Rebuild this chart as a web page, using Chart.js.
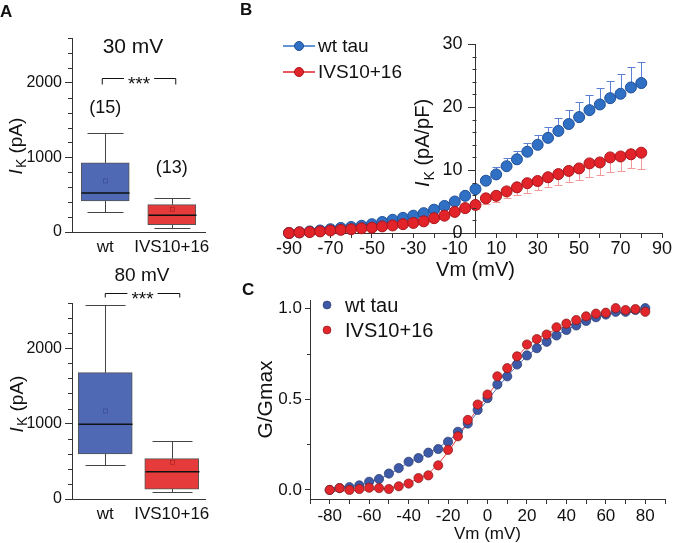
<!DOCTYPE html>
<html>
<head>
<meta charset="utf-8">
<script src="https://cdn.jsdelivr.net/npm/chart.js@4.4.0/dist/chart.umd.min.js"></script>
<style>
  html, body { margin: 0; padding: 0; background: #fff; }
  #fig { position: relative; width: 673px; height: 543px; overflow: hidden; }
  #fig canvas { position: absolute; }
  .panel { position: absolute; font: bold 17px "Liberation Sans", Arial, sans-serif; line-height: 17px; color: #111; }
</style>
</head>
<body>
<div id="fig">
  <canvas id="box30" width="230" height="260" style="left:0;top:0;width:230px;height:260px"></canvas>
  <canvas id="box80" width="230" height="283" style="left:0;top:260px;width:230px;height:283px"></canvas>
  <canvas id="iv" width="443" height="290" style="left:230px;top:0;width:443px;height:290px"></canvas>
  <canvas id="gv" width="443" height="263" style="left:230px;top:280px;width:443px;height:263px"></canvas>
  <div class="panel" style="left:0;top:3px">A</div>
  <div class="panel" style="left:240px;top:1px">B</div>
  <div class="panel" style="left:242px;top:281px">C</div>
</div>
<script>
const FONT = '"Liberation Sans", Arial, sans-serif';
const AXIS = '#333';
const INK = '#111';

// ---- Panel A: I_K box plots (pA), one entry per group ----
const groups = ['wt', 'IVS10+16'];
const counts30 = ['(15)', '(13)'];
const countY30 = [1600, 790];
const boxTicksA = [0, 1000, 2000];
const boxMinorA = [200, 400, 600, 800, 1200, 1400, 1600, 1800, 2200, 2400, 2600];

const min30 = [268, 54];
const q1_30 = [416, 98];
const med30 = [523, 224];
const q3_30 = [926, 367];
const max30 = [1330, 456];
const mean30 = [685, 305];

const min80 = [447, 88];
const q1_80 = [597, 132];
const med80 = [992, 360];
const q3_80 = [1676, 536];
const max80 = [2580, 772];
const mean80 = [1167, 487];

// ---- Panel B: current density vs voltage ----
const vmB = [-90, -85, -80, -75, -70, -65, -60, -55, -50, -45, -40, -35, -30, -25, -20, -15, -10, -5, 0,
  5, 10, 15, 20, 25, 30, 35, 40, 45, 50, 55, 60, 65, 70, 75, 80];
const ivWt = [0, 0.1, 0.25, 0.4, 0.6, 0.8, 0.95, 1.15, 1.4, 1.75, 2.1, 2.4, 2.75, 3.15, 3.7, 4.3, 5.0, 5.9, 6.95,
  8.3, 9.3, 10.6, 11.7, 12.9, 14.0, 15.1, 16.2, 17.3, 18.4, 19.5, 20.4, 21.4, 22.1, 23.1, 23.8];
const ivWtErr = [0.1, 0.1, 0.1, 0.1, 0.1, 0.1, 0.15, 0.15, 0.2, 0.2, 0.25, 0.25, 0.3, 0.3, 0.35, 0.35, 0.4, 0.5, 0.65,
  0.75, 1.1, 1.3, 1.35, 1.4, 1.6, 1.7, 2.0, 2.3, 2.4, 2.4, 2.65, 2.8, 3.2, 3.2, 3.3];
const ivMut = [0, 0.1, 0.15, 0.25, 0.4, 0.5, 0.6, 0.75, 0.85, 1.05, 1.2, 1.4, 1.6, 1.85, 2.35, 2.75, 3.35, 3.95, 4.45,
  5.5, 5.9, 6.6, 7.25, 7.9, 8.25, 8.85, 9.35, 9.85, 10.25, 11.05, 11.2, 12.0, 12.15, 12.5, 12.75];
const ivMutErr = [0.05, 0.05, 0.05, 0.05, 0.1, 0.1, 0.1, 0.1, 0.1, 0.15, 0.15, 0.2, 0.2, 0.25, 0.3, 0.35, 0.4, 0.5, 0.6,
  0.9, 0.9, 1.1, 1.2, 1.5, 1.4, 1.5, 1.7, 1.75, 1.85, 2.1, 2.05, 2.25, 2.3, 2.25, 2.6];
const ivTicksX = [-90, -80, -70, -60, -50, -40, -30, -20, -10, 0, 10, 20, 30, 40, 50, 60, 70, 80, 90];
const ivLabelsX = [-90, -70, -50, -30, -10, 10, 30, 50, 70, 90];
const ivTicksY = [0, 10, 20, 30];
const ivMinorY = [2, 4, 6, 8, 12, 14, 16, 18, 22, 24, 26, 28];

// ---- Panel C: normalised conductance ----
const vmC = [-80, -75, -70, -65, -60, -55, -50, -45, -40, -35, -30, -25, -20, -15, -10, -5, 0,
  5, 10, 15, 20, 25, 30, 35, 40, 45, 50, 55, 60, 65, 70, 75, 80];
const gvWt = [0.0, 0.01, 0.015, 0.025, 0.045, 0.06, 0.09, 0.12, 0.155, 0.175, 0.205, 0.225, 0.265, 0.32, 0.365, 0.44, 0.505,
  0.58, 0.625, 0.69, 0.74, 0.78, 0.815, 0.85, 0.88, 0.905, 0.93, 0.95, 0.965, 0.98, 0.98, 0.99, 1.0];
const gvMut = [0.0, 0.01, 0.0, 0.005, 0.012, 0.01, 0.005, 0.02, 0.035, 0.065, 0.08, 0.135, 0.22, 0.295, 0.385, 0.47, 0.525,
  0.625, 0.67, 0.735, 0.8, 0.83, 0.855, 0.895, 0.915, 0.935, 0.955, 0.97, 0.975, 1.0, 0.99, 0.995, 0.98];
// Boltzmann fit curves, every 10 mV
const fitV = [-80, -70, -60, -50, -40, -30, -20, -10, 0, 10, 20, 30, 40, 50, 60, 70, 80];
const fitWt = [0.01, 0.02, 0.04, 0.085, 0.15, 0.2, 0.27, 0.365, 0.495, 0.625, 0.735, 0.82, 0.88, 0.93, 0.965, 0.98, 0.995];
const fitMut = [-0.008, -0.005, 0.0, 0.01, 0.04, 0.09, 0.21, 0.37, 0.52, 0.66, 0.79, 0.86, 0.9, 0.935, 0.965, 0.975, 0.98];
const gvTicksX = [-90, -80, -70, -60, -50, -40, -30, -20, -10, 0, 10, 20, 30, 40, 50, 60, 70, 80, 90];
const gvLabelsX = [-80, -60, -40, -20, 0, 20, 40, 60, 80];
const gvTicksY = [0, 0.5, 1.0];
const gvMinorY = [0.25, 0.75];

const seriesNames = ['wt tau', 'IVS10+16'];

// colours
const BOX_FILL = ['#5069b5', '#e63b3b'];
const BOX_MEAN = ['#3a4f99', '#b02525'];
const B_BLUE = '#2f70c4', B_BLUE_EDGE = '#1f4e99', B_BLUE_ERR = '#5a7fd4';
const B_RED = '#e2232a', B_RED_EDGE = '#a8141a', B_RED_ERR = '#f29a9a';
const C_BLUE = '#3d5aa8', C_BLUE_EDGE = '#2a3566', C_BLUE_FIT = '#4a6fd0';
const C_RED = '#e2262c', C_RED_EDGE = '#7d1a1a', C_RED_FIT = '#e8353a';

Chart.defaults.font.family = FONT;
Chart.defaults.color = INK;
Chart.defaults.animation = false;
Chart.defaults.events = [];
Chart.defaults.plugins.legend.display = false;
Chart.defaults.plugins.tooltip.enabled = false;

function line(ctx, x1, y1, x2, y2) {
  ctx.beginPath(); ctx.moveTo(x1, y1); ctx.lineTo(x2, y2); ctx.stroke();
}
const crisp = (v) => Math.round(v) + 0.5;
const setTicks = (vals) => (s) => { s.ticks = vals.map((v) => ({ value: v })); };

// short unlabelled ticks on the y axis (Chart.js has no minor ticks)
Chart.register({
  id: 'minorTicks',
  afterDraw(chart, args, opts) {
    if (!opts.values) return;
    const { ctx, scales } = chart;
    const ys = scales.y;
    const x0 = opts.atX !== undefined ? crisp(scales.x.getPixelForValue(opts.atX)) : crisp(ys.right) - 0.5;
    ctx.save();
    ctx.strokeStyle = AXIS;
    ctx.lineWidth = 1;
    for (const v of opts.values) {
      const py = crisp(ys.getPixelForValue(v));
      line(ctx, x0, py, x0 - opts.len, py);
    }
    ctx.restore();
  },
});

// rotated "I_K (unit)" axis title, italic I with subscript K
function drawIK(ctx, cx, cy, unit, size) {
  ctx.save();
  ctx.translate(cx, cy);
  ctx.rotate(-Math.PI / 2);
  ctx.fillStyle = INK;
  ctx.textAlign = 'left';
  ctx.textBaseline = 'alphabetic';
  const fI = `italic ${size}px ${FONT}`;
  const fK = `${Math.round(size * 0.72)}px ${FONT}`;
  const fU = `${size}px ${FONT}`;
  ctx.font = fI; const wI = ctx.measureText('I').width + 1;
  ctx.font = fK; const wK = ctx.measureText('K').width;
  ctx.font = fU; const wU = ctx.measureText(' ' + unit).width;
  let x = -(wI + wK + wU) / 2;
  const base = size * 0.36;
  ctx.font = fI; ctx.fillText('I', x, base); x += wI;
  ctx.font = fK; ctx.fillText('K', x, base + size * 0.22); x += wK;
  ctx.font = fU; ctx.fillText(' ' + unit, x, base);
  ctx.restore();
}

function boxChart(id, o) {
  const boxParts = {
    id: 'boxParts',
    afterDatasetsDraw(chart) {
      const { ctx, scales: { x, y } } = chart;
      ctx.save();
      o.q1.forEach((_, i) => {
        const cx = crisp(x.getPixelForValue(i));
        const half = o.barW / 2;
        const cap = Math.round(o.barW * 0.37);
        const pHi = crisp(y.getPixelForValue(o.hi[i]));
        const pLo = crisp(y.getPixelForValue(o.lo[i]));
        ctx.strokeStyle = '#444';
        ctx.lineWidth = 1;
        line(ctx, cx, y.getPixelForValue(o.q3[i]), cx, pHi);
        line(ctx, cx - cap, pHi, cx + cap, pHi);
        line(ctx, cx, y.getPixelForValue(o.q1[i]), cx, pLo);
        line(ctx, cx - cap, pLo, cx + cap, pLo);
        ctx.strokeStyle = INK;
        ctx.lineWidth = 1.5;
        const pMed = y.getPixelForValue(o.med[i]);
        line(ctx, cx - half, pMed, cx + half, pMed);
        ctx.strokeStyle = BOX_MEAN[i];
        ctx.lineWidth = 0.8;
        const pMean = y.getPixelForValue(o.mean[i]);
        ctx.strokeRect(cx - 2, pMean - 2, 4, 4);
      });
      ctx.restore();
    },
  };
  const notes = {
    id: 'boxNotes',
    afterDraw(chart) {
      const { ctx, scales: { x, y } } = chart;
      ctx.save();
      ctx.fillStyle = INK;
      ctx.textAlign = 'center';
      ctx.textBaseline = 'alphabetic';
      ctx.font = `${o.titleSize}px ${FONT}`;
      ctx.fillText(o.title, o.titleX, o.titleY);
      // significance bracket
      const bx1 = x.getPixelForValue(0) + o.bracketEnds[0];
      const bx2 = x.getPixelForValue(1) + o.bracketEnds[1];
      const by = crisp(o.bracketY);
      ctx.font = `19px ${FONT}`;
      const mid = (bx1 + bx2) / 2;
      const tw = ctx.measureText('***').width;
      ctx.strokeStyle = INK;
      ctx.lineWidth = 1;
      line(ctx, bx1, by + o.bracketDrop, bx1, by);
      line(ctx, bx1, by, mid - tw / 2 - 4, by);
      line(ctx, mid + tw / 2 + 4, by, bx2, by);
      line(ctx, bx2, by, bx2, by + o.bracketDrop);
      ctx.fillText('***', mid, by + 11);
      if (o.counts) {
        ctx.font = `18px ${FONT}`;
        o.counts.forEach((t, i) => ctx.fillText(t, x.getPixelForValue(i), y.getPixelForValue(o.countY[i])));
      }
      drawIK(ctx, o.yTitleX, o.yTitleY, '(pA)', 19);
      ctx.restore();
    },
  };
  return new Chart(document.getElementById(id), {
    type: 'bar',
    data: {
      labels: groups,
      datasets: [{
        data: o.q1.map((v, i) => [v, o.q3[i]]),
        backgroundColor: BOX_FILL,
        borderColor: '#555',
        borderWidth: 1,
        borderSkipped: false,
        barThickness: o.barW,
      }],
    },
    options: {
      responsive: false,
      layout: { padding: { left: 0, right: 25, top: o.padTop, bottom: 0 } },
      scales: {
        x: {
          afterFit: (s) => { s.height = o.axisH; },
          grid: { display: true, drawOnChartArea: false, drawTicks: false },
          border: { display: true, color: AXIS },
          ticks: { font: { size: 17 }, padding: 5, color: INK, autoSkip: false, maxRotation: 0, minRotation: 0 },
        },
        y: {
          min: 0,
          max: 2600,
          afterFit: (s) => { s.width = 72; },
          afterBuildTicks: setTicks(boxTicksA),
          grid: { drawOnChartArea: false, tickLength: 7, color: AXIS },
          border: { color: AXIS },
          ticks: { font: { size: 16 }, padding: 3, color: INK, callback: (v) => String(v) },
        },
      },
      plugins: { minorTicks: { values: boxMinorA, len: 4 } },
    },
    plugins: [boxParts, notes],
  });
}

boxChart('box30', {
  lo: min30, q1: q1_30, med: med30, q3: q3_30, hi: max30, mean: mean30,
  padTop: 38, axisH: 28, barW: 48,
  title: '30 mV', titleX: 133, titleY: 53, titleSize: 21,
  bracketY: 78, bracketEnds: [-3, 4], bracketDrop: 6,
  counts: counts30, countY: countY30,
  yTitleX: 15, yTitleY: 146,
});

boxChart('box80', {
  lo: min80, q1: q1_80, med: med80, q3: q3_80, hi: max80, mean: mean80,
  padTop: 43, axisH: 44, barW: 54,
  title: '80 mV', titleX: 142, titleY: 21, titleSize: 19,
  bracketY: 33, bracketEnds: [0, 8], bracketDrop: 4,
  yTitleX: 16, yTitleY: 144,
});

// ---- Panel B ----
const ivErrorBars = {
  id: 'ivErrorBars',
  beforeDatasetsDraw(chart) {
    const { ctx, scales: { x, y } } = chart;
    ctx.save();
    ctx.lineWidth = 1;
    const draw = (vals, errs, dir, color) => {
      ctx.strokeStyle = color;
      vals.forEach((v, i) => {
        const px = crisp(x.getPixelForValue(vmB[i]));
        const p0 = y.getPixelForValue(v);
        const p1 = crisp(y.getPixelForValue(v + dir * errs[i]));
        line(ctx, px, p0, px, p1);
        line(ctx, px - 4, p1, px + 4, p1);
      });
    };
    draw(ivWt, ivWtErr, 1, B_BLUE_ERR);
    draw(ivMut, ivMutErr, -1, B_RED_ERR);
    ctx.restore();
  },
};

const ivDecor = {
  id: 'ivDecor',
  afterDraw(chart) {
    const { ctx, scales: { x, y } } = chart;
    ctx.save();
    // y tick labels: Chart.js puts labels of a centred axis flush on the line,
    // so they are written here, off the axis by tick length + padding
    const ax = x.getPixelForValue(0);
    ctx.fillStyle = INK;
    ctx.font = `18px ${FONT}`;
    ctx.textAlign = 'right';
    ctx.textBaseline = 'middle';
    ivTicksY.forEach((v) => ctx.fillText(String(v), ax - 13, y.getPixelForValue(v)));

    const rows = [[46, B_BLUE, B_BLUE_EDGE], [72, B_RED, B_RED_EDGE]];
    rows.forEach(([ly, fill, edge], i) => {
      ctx.strokeStyle = fill;
      ctx.lineWidth = 1.5;
      line(ctx, 53, ly, 85, ly);
      ctx.beginPath();
      ctx.arc(69, ly, 4.5, 0, Math.PI * 2);
      ctx.fillStyle = fill;
      ctx.fill();
      ctx.lineWidth = 1;
      ctx.strokeStyle = edge;
      ctx.stroke();
      ctx.fillStyle = INK;
      ctx.font = `19px ${FONT}`;
      ctx.textAlign = 'left';
      ctx.textBaseline = 'middle';
      ctx.fillText(seriesNames[i], 88, ly + 1);
    });
    drawIK(ctx, 192, 143, '(pA/pF)', 20);
    ctx.restore();
  },
};

new Chart(document.getElementById('iv'), {
  type: 'scatter',
  data: {
    datasets: [
      {
        label: seriesNames[0],
        data: vmB.map((v, i) => ({ x: v, y: ivWt[i] })),
        backgroundColor: B_BLUE,
        borderColor: B_BLUE_EDGE,
        borderWidth: 1,
        pointRadius: 5.5,
        order: 2,
      },
      {
        label: seriesNames[1],
        data: vmB.map((v, i) => ({ x: v, y: ivMut[i] })),
        backgroundColor: B_RED,
        borderColor: B_RED_EDGE,
        borderWidth: 1,
        pointRadius: 5.5,
        order: 1,
      },
    ],
  },
  options: {
    responsive: false,
    clip: false,
    layout: { padding: { left: 59, right: 11, top: 44, bottom: 0 } },
    scales: {
      x: {
        type: 'linear',
        min: -90,
        max: 90,
        afterFit: (s) => { s.height = 57; },
        afterBuildTicks: setTicks(ivTicksX),
        grid: { drawOnChartArea: false, tickLength: 5, color: AXIS },
        border: { color: AXIS },
        ticks: {
          font: { size: 18 }, padding: 0, autoSkip: false, maxRotation: 0, color: INK,
          callback: (v) => (ivLabelsX.includes(v) ? String(v) : ''),
        },
        title: { display: true, text: 'Vm (mV)', font: { size: 20 }, color: INK, padding: { top: 0, bottom: 8 } },
      },
      y: {
        type: 'linear',
        position: { x: 0 },
        min: 0,
        max: 30,
        afterBuildTicks: setTicks(ivTicksY),
        grid: { drawOnChartArea: false, tickLength: 7, color: AXIS },
        border: { color: AXIS },
        ticks: { display: false },
      },
    },
    plugins: { minorTicks: { values: ivMinorY, len: 4, atX: 0 } },
  },
  plugins: [ivErrorBars, ivDecor],
});

// ---- Panel C ----
const gvLegend = {
  id: 'gvLegend',
  afterDraw(chart) {
    const { ctx } = chart;
    ctx.save();
    const rows = [[25, C_BLUE, C_BLUE_EDGE], [50, C_RED, C_RED_EDGE]];
    rows.forEach(([ly, fill, edge], i) => {
      ctx.beginPath();
      ctx.arc(97, ly, 4, 0, Math.PI * 2);
      ctx.fillStyle = fill;
      ctx.fill();
      ctx.lineWidth = 0.6;
      ctx.strokeStyle = edge;
      ctx.stroke();
      ctx.fillStyle = INK;
      ctx.font = `20px ${FONT}`;
      ctx.textAlign = 'left';
      ctx.textBaseline = 'middle';
      ctx.fillText(seriesNames[i], 115, ly + 1);
    });
    ctx.restore();
  },
};

new Chart(document.getElementById('gv'), {
  type: 'scatter',
  data: {
    datasets: [
      {
        type: 'line',
        data: fitV.map((v, i) => ({ x: v, y: fitWt[i] })),
        borderColor: C_BLUE_FIT,
        borderWidth: 1,
        pointRadius: 0,
        cubicInterpolationMode: 'monotone',
        fill: false,
        order: 4,
      },
      {
        type: 'line',
        data: fitV.map((v, i) => ({ x: v, y: fitMut[i] })),
        borderColor: C_RED_FIT,
        borderWidth: 1,
        pointRadius: 0,
        cubicInterpolationMode: 'monotone',
        fill: false,
        order: 3,
      },
      {
        label: seriesNames[0],
        data: vmC.map((v, i) => ({ x: v, y: gvWt[i] })),
        backgroundColor: C_BLUE,
        borderColor: C_BLUE_EDGE,
        borderWidth: 0.7,
        pointRadius: 4.6,
        order: 2,
      },
      {
        label: seriesNames[1],
        data: vmC.map((v, i) => ({ x: v, y: gvMut[i] })),
        backgroundColor: C_RED,
        borderColor: C_RED_EDGE,
        borderWidth: 0.7,
        pointRadius: 4.6,
        order: 1,
      },
    ],
  },
  options: {
    responsive: false,
    clip: false,
    layout: { padding: { left: 0, right: 8, top: 20, bottom: 0 } },
    scales: {
      x: {
        type: 'linear',
        min: -90,
        max: 90,
        afterFit: (s) => { s.height = 44; },
        afterBuildTicks: setTicks(gvTicksX),
        grid: { drawOnChartArea: false, tickLength: 5, color: AXIS },
        border: { color: AXIS },
        ticks: {
          font: { size: 17 }, padding: 2, autoSkip: false, maxRotation: 0, color: INK,
          callback: (v) => (gvLabelsX.includes(v) ? String(v) : ''),
        },
        title: { display: true, text: 'Vm (mV)', font: { size: 17 }, color: INK, padding: { top: 0, bottom: -2 } },
      },
      y: {
        type: 'linear',
        min: -0.05,
        max: 1.045,
        afterFit: (s) => { s.width = 80; },
        afterBuildTicks: setTicks(gvTicksY),
        grid: { drawOnChartArea: false, tickLength: 5, color: AXIS },
        border: { color: AXIS },
        ticks: { font: { size: 17 }, padding: 3, color: INK, callback: (v) => v.toFixed(1) },
        title: { display: true, text: 'G/Gmax', font: { size: 21 }, color: INK, padding: { top: 24, bottom: 0 } },
      },
    },
    plugins: { minorTicks: { values: gvMinorY, len: 3 } },
  },
  plugins: [gvLegend],
});
</script>
</body>
</html>
